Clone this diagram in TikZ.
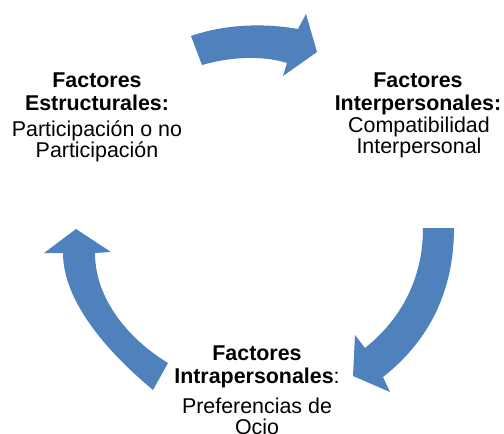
\documentclass[tikz,border=0pt]{standalone}
\usepackage{fontspec}
\setmainfont{Liberation Sans}
\definecolor{cycleblue}{HTML}{4F81BD}
\tikzset{
  cyclearrow/.style={fill=cycleblue},
  factortitle/.style={font=\fontsize{10.7}{11.5}\selectfont\bfseries,
    align=center, inner sep=0pt, anchor=base},
  factorbody/.style={font=\fontsize{10.7}{10.5}\selectfont,
    align=center, inner sep=0pt, anchor=base}
}

\begin{document}
\begin{tikzpicture}[x=0.5pt,y=-0.5pt]
\useasboundingbox (0,0) rectangle (504,434);

% Top arrow, from the left block to the right block
\coordinate (topTailOut) at (191,36);
\coordinate (topTailIn)  at (202,65);
\coordinate (topNeckOut) at (298,29);
\coordinate (topNeckIn)  at (287,63);
\fill [cyclearrow] (topTailOut)
   .. controls (225,24) and (265,23) .. (topNeckOut)
   -- (306,14) -- (317,52) -- (283,76) -- (topNeckIn)
   .. controls (262,55) and (230,57) .. (topTailIn) -- cycle;

% Right arrow, from the right block down to the bottom block
\coordinate (rgtTailIn)  at (423,228);
\coordinate (rgtTailOut) at (454,228);
\coordinate (rgtNeckOut) at (383,377);
\coordinate (rgtNeckIn)  at (365,348);
\fill [cyclearrow] (rgtTailIn) -- (rgtTailOut)
   .. controls (454,290) and (430,340) .. (rgtNeckOut)
   -- (390,392) -- (353,376) -- (355,335) -- (rgtNeckIn)
   .. controls (400,320) and (423,280) .. (rgtTailIn) -- cycle;

% Left arrow, from the bottom block up to the left block
\coordinate (lftTailIn)  at (168,363);
\coordinate (lftTailOut) at (153,390);
\coordinate (lftNeckOut) at (63,253);
\coordinate (lftNeckIn)  at (95,253);
\fill [cyclearrow] (lftTailIn) -- (lftTailOut)
   .. controls (105,350) and (63,300) .. (lftNeckOut)
   -- (44,253) -- (76,229) -- (111,252) -- (lftNeckIn)
   .. controls (95,300) and (130,340) .. (lftTailIn) -- cycle;

% Left block (base is the last line)
\node [factortitle] (estTitle) at (97,110) {Factores\\Estructurales:};
\node [factorbody]  (estBody)  at (97,157) {Participación o no\\Participación};

% Right block
\node [factortitle] (interTitle) at (418,110) {Factores\\Interpersonales:};
\node [factorbody]  (interBody)  at (419,153) {Compatibilidad\\Interpersonal};

% Bottom block
\node [factortitle] (intraTitle) at (257,383)
   {Factores\\Intrapersonales\textmd{:}};
\node [factorbody]  (intraBody)  at (257,434) {Preferencias de\\Ocio};
\end{tikzpicture}
\end{document}
